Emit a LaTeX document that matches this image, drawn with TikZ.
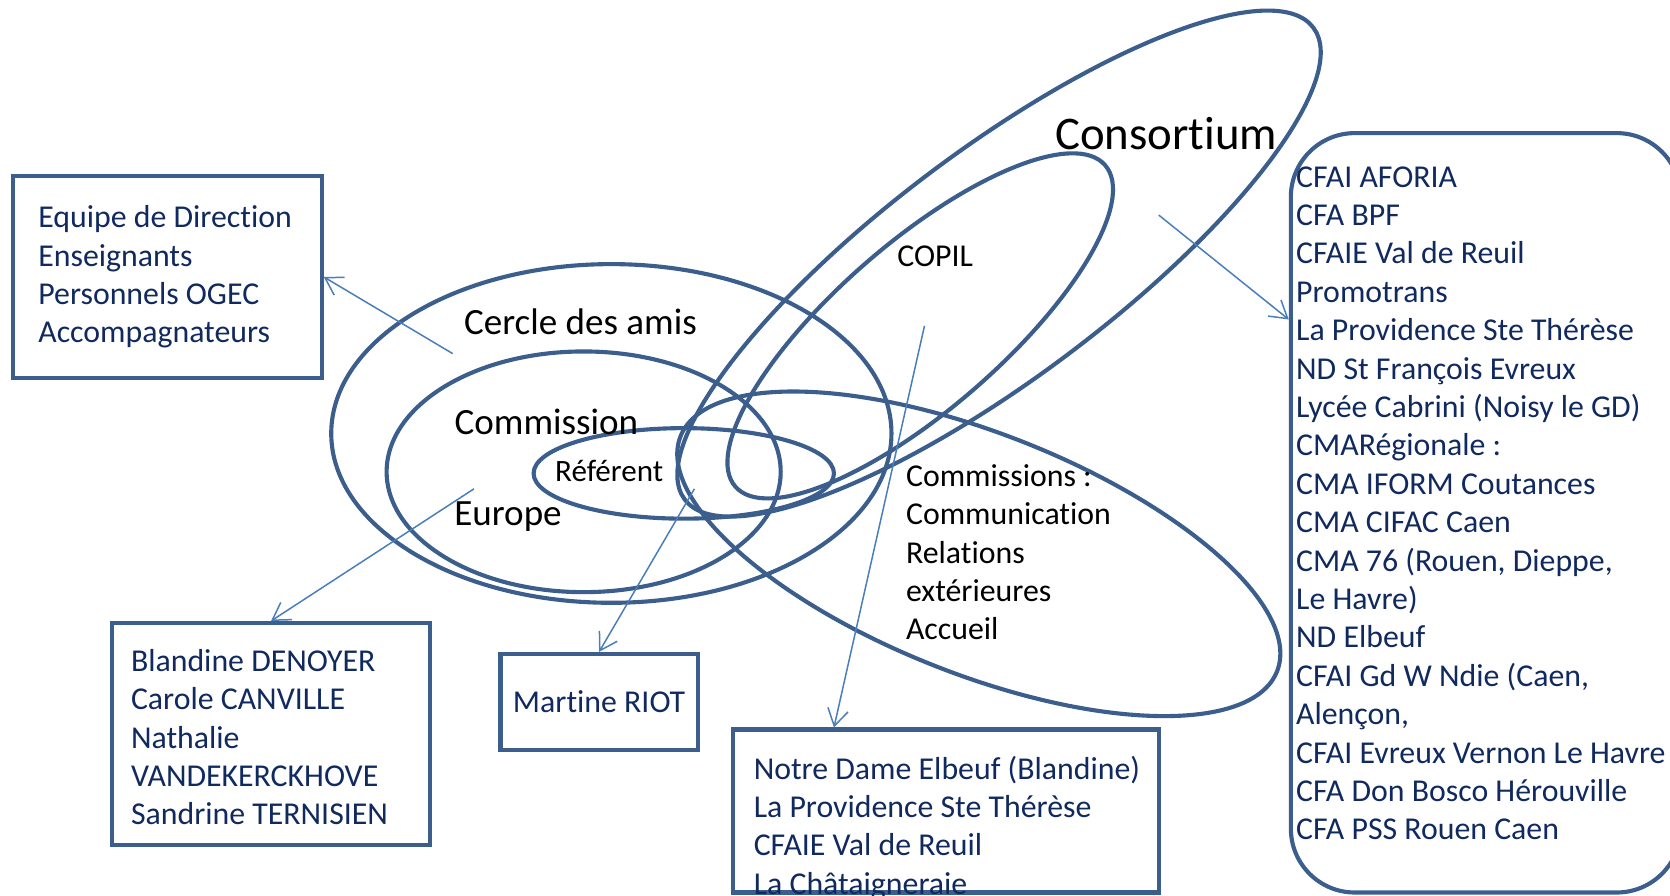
\documentclass[tikz,border=0pt]{standalone}
\usepackage{fontspec}
\setmainfont{Carlito}[Ligatures=CommonOff]
\usepackage{tikz}
\usetikzlibrary{positioning}
\usetikzlibrary{arrows.meta}
\definecolor{ringblue}{HTML}{3B5E8C}
\definecolor{linkblue}{HTML}{4A7EBB}
\definecolor{inkblue}{HTML}{10295F}
\tikzset{ring/.style={draw=ringblue, line width=1.1pt}}
\tikzset{membox/.style={draw=ringblue, line width=1.1pt, text=inkblue, align=flush left, font=\fontsize{8.5}{10.26}\selectfont}}
\tikzset{link/.style={draw=linkblue, line width=0.4pt, -{Straight Barb[length=4.5pt,width=5.5pt]}}}
\tikzset{tag/.style={inner sep=0pt, anchor=base}}

\begin{document}
\begin{tikzpicture}
\useasboundingbox (0,0) rectangle (15.68,8.41);
% groups
\draw[ring] (5.74,4.34) ellipse [x radius=2.63, y radius=1.59];
\draw[ring] (5.48,3.98) ellipse [x radius=1.85, y radius=1.13];
\draw[ring] (6.42,3.965) ellipse [x radius=1.41, y radius=0.425];
\draw[ring, rotate around={-21.5:(9.19,3.21)}] (9.19,3.21) ellipse [x radius=3.01, y radius=1.13];
\draw[ring, rotate around={36.9:(9.38,5.935)}] (9.38,5.935) ellipse [x radius=3.69, y radius=1.07];
\draw[ring, rotate around={41:(8.64,5.35)}] (8.64,5.35) ellipse [x radius=2.30, y radius=0.78];
% labels
\node[tag, font=\fontsize{12.5}{15}\selectfont] (consortium) at (10.95,7.01) {Consortium};
\node[tag, font=\fontsize{8.5}{10.26}\selectfont] (copil) at (8.78,5.91) {COPIL};
\node[tag, font=\fontsize{9.9}{12}\selectfont] (cercle) at (5.45,5.27) {Cercle des amis};
\node[tag, font=\fontsize{9.9}{12}\selectfont] (commission) at (5.13,4.33) {Commission};
\node[tag, font=\fontsize{9.9}{12}\selectfont] (europe) at (4.77,3.48) {Europe};
\node[tag, font=\fontsize{8.3}{10}\selectfont] (referent) at (5.72,3.89) {Référent};
\node[inner sep=0pt, anchor=west, align=left, font=\fontsize{8.5}{10.26}\selectfont] (commissions) at (8.50,3.225)
  {Commissions :\\Communication\\Relations\\extérieures\\Accueil};
% boxes
\node[membox, minimum width=2.90cm, minimum height=1.90cm, text width=2.42cm, inner xsep=0.24cm] (equipe) at (1.57,5.81)
  {Equipe de Direction\\Enseignants\\Personnels OGEC\\Accompagnateurs};
\node[membox, minimum width=2.99cm, minimum height=2.08cm, text width=2.63cm, inner xsep=0.18cm] (noms) at (2.545,1.52)
  {\rule{0pt}{0.27cm}Blandine DENOYER\\Carole CANVILLE\\Nathalie\\VANDEKERCKHOVE\\Sandrine TERNISIEN};
\node[membox, align=center, minimum width=1.81cm, minimum height=0.90cm] (riot) at (5.625,1.82) {Martine RIOT};
\node[membox, minimum width=4.00cm, minimum height=1.53cm] (sitebox) at (8.88,0.795) {};
\node[inner sep=0pt, anchor=north west, align=left, text=inkblue, font=\fontsize{8.5}{10.26}\selectfont] (sites) at (7.07,1.32)
  {Notre Dame Elbeuf (Blandine)\\La Providence Ste Thérèse\\CFAIE Val de Reuil\\La Châtaigneraie};
\node[membox, rounded corners=0.6cm, minimum width=3.66cm, minimum height=7.13cm, text width=3.56cm, inner xsep=0.05cm] (cfa) at (13.95,3.595)
  {CFAI AFORIA\\CFA BPF\\CFAIE Val de Reuil\\Promotrans\\La Providence Ste Thérèse\\ND St François Evreux\\Lycée Cabrini (Noisy le GD)\\CMARégionale :\\CMA IFORM Coutances\\CMA CIFAC Caen\\CMA 76 (Rouen, Dieppe,\\Le Havre)\\ND Elbeuf\\CFAI Gd W Ndie (Caen,\\Alençon,\\CFAI Evreux Vernon Le Havre\\CFA Don Bosco Hérouville\\CFA PSS Rouen Caen\rule[-0.18cm]{0pt}{0pt}};
% links
\coordinate (fromcercle) at (4.25,5.09);
\coordinate (fromcommission) at (4.45,3.82);
\coordinate (fromreferent) at (6.52,3.82);
\coordinate (fromcopil) at (8.68,5.35);
\coordinate (fromconsortium) at (10.88,6.39);
\draw[link] (fromcercle) -- (equipe.east);
\draw[link] (fromcommission) -- (noms.north);
\draw[link] (fromreferent) -- (riot.north);
\draw[link] (fromcopil) -- ([xshift=-1.05cm]sitebox.north);
\draw[link] (fromconsortium) -- ([yshift=1.815cm]cfa.west);
\end{tikzpicture}
\end{document}
